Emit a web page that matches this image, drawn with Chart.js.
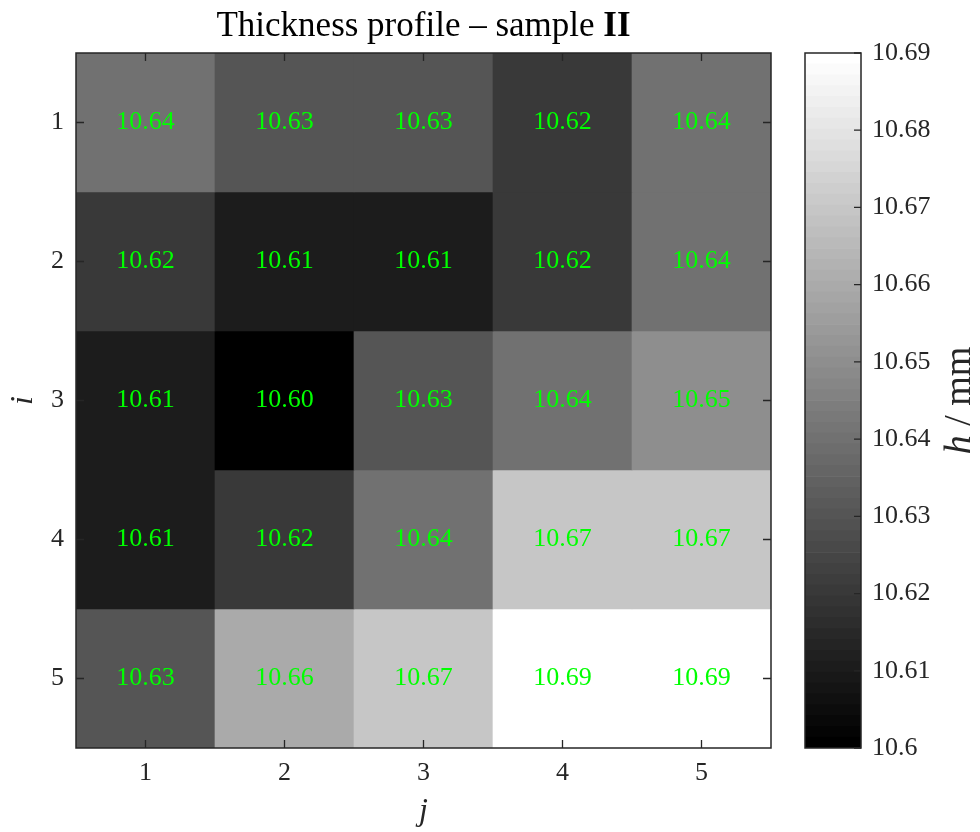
<!DOCTYPE html>
<html>
<head>
<meta charset="utf-8">
<title>Thickness profile – sample II</title>
<script src="https://cdn.jsdelivr.net/npm/chart.js@4.4.1/dist/chart.umd.min.js"></script>
<style>
  html, body { margin: 0; padding: 0; background: #ffffff; }
  #wrap { position: relative; width: 980px; height: 832px; }
  #heat { position: absolute; left: 0; top: 0; }
  #bar  { position: absolute; left: 780px; top: 0; }
</style>
</head>
<body>
<div id="wrap">
  <canvas id="heat" width="980" height="832"></canvas>
  <canvas id="bar" width="200" height="832"></canvas>
</div>
<script>
// Measured thickness h (mm), rows i = 1..5, columns j = 1..5
const columnLabels = ['1', '2', '3', '4', '5'];
const rowLabels = [1, 2, 3, 4, 5];
const rowI1 = [10.64, 10.63, 10.63, 10.62, 10.64];
const rowI2 = [10.62, 10.61, 10.61, 10.62, 10.64];
const rowI3 = [10.61, 10.60, 10.63, 10.64, 10.65];
const rowI4 = [10.61, 10.62, 10.64, 10.67, 10.67];
const rowI5 = [10.63, 10.66, 10.67, 10.69, 10.69];
const thickness = [rowI1, rowI2, rowI3, rowI4, rowI5];

// Colour scale
const colorLimits = [10.6, 10.69];
const colorbarTicks = [10.6, 10.61, 10.62, 10.63, 10.64, 10.65, 10.66, 10.67, 10.68, 10.69];
const levelCount = 64; // gray colormap with 64 entries

const SERIF = '"Liberation Serif", "DejaVu Serif", serif';
const AXIS_COLOR = '#262626';
const LABEL_COLOR = '#00ff00';

function levelIndex(v) {
  const t = (v - colorLimits[0]) / (colorLimits[1] - colorLimits[0]);
  return Math.min(levelCount - 1, Math.max(0, Math.floor(t * levelCount)));
}
function grayLevel(idx) {
  const g = Math.round(idx / (levelCount - 1) * 255);
  return 'rgb(' + g + ',' + g + ',' + g + ')';
}
function grayFor(v) { return grayLevel(levelIndex(v)); }

// Cell values, frame, inward ticks and text for the map
const heatDecor = {
  id: 'heatDecor',
  afterDatasetsDraw(chart) {
    const ctx = chart.ctx;
    const xs = chart.scales.x, ys = chart.scales.y;
    const a = chart.chartArea;
    ctx.save();
    // values inside the cells
    ctx.font = '26px ' + SERIF;
    ctx.fillStyle = LABEL_COLOR;
    ctx.textAlign = 'center';
    ctx.textBaseline = 'middle';
    thickness.forEach((row, r) => {
      row.forEach((v, c) => {
        ctx.fillText(v.toFixed(2), xs.getPixelForValue(c), ys.getPixelForValue(rowLabels[r]));
      });
    });
    // frame
    ctx.strokeStyle = AXIS_COLOR;
    ctx.lineWidth = 1.5;
    ctx.strokeRect(a.left, a.top, a.right - a.left, a.bottom - a.top);
    // inward tick marks on all four sides
    const tl = 8;
    ctx.lineWidth = 1.3;
    ctx.beginPath();
    xs.ticks.forEach((t, k) => {
      const px = xs.getPixelForTick(k);
      ctx.moveTo(px, a.bottom); ctx.lineTo(px, a.bottom - tl);
      ctx.moveTo(px, a.top); ctx.lineTo(px, a.top + tl);
    });
    ys.ticks.forEach((t) => {
      const py = ys.getPixelForValue(t.value);
      ctx.moveTo(a.left, py); ctx.lineTo(a.left + tl, py);
      ctx.moveTo(a.right, py); ctx.lineTo(a.right - tl, py);
    });
    ctx.stroke();
    ctx.restore();
  },
  afterDraw(chart) {
    const ctx = chart.ctx;
    const a = chart.chartArea;
    const cx = (a.left + a.right) / 2;
    const cy = (a.top + a.bottom) / 2;
    ctx.save();
    // title with bold sample number
    const part1 = 'Thickness profile \u2013 sample ';
    const part2 = 'II';
    const f1 = '35px ' + SERIF, f2 = 'bold 35px ' + SERIF;
    ctx.font = f1; const w1 = ctx.measureText(part1).width;
    ctx.font = f2; const w2 = ctx.measureText(part2).width;
    const x0 = cx - (w1 + w2) / 2;
    ctx.fillStyle = '#000000';
    ctx.textBaseline = 'alphabetic';
    ctx.textAlign = 'left';
    ctx.font = f1; ctx.fillText(part1, x0, 36);
    ctx.font = f2; ctx.fillText(part2, x0 + w1, 36);
    // axis labels
    ctx.fillStyle = AXIS_COLOR;
    ctx.font = 'italic 32px ' + SERIF;
    ctx.textAlign = 'center';
    ctx.fillText('j', cx, 820);
    ctx.translate(32, cy);
    ctx.rotate(-Math.PI / 2);
    ctx.fillText('i', 0, 0);
    ctx.restore();
  }
};

new Chart(document.getElementById('heat'), {
  type: 'bar',
  data: {
    labels: columnLabels,
    datasets: thickness.map((row, r) => ({
      label: 'i = ' + rowLabels[r],
      data: row.map(() => [rowLabels[r] - 0.5, rowLabels[r] + 0.5]),
      backgroundColor: row.map(grayFor),
      borderWidth: 0,
      grouped: false,
      barPercentage: 1,
      categoryPercentage: 1
    }))
  },
  options: {
    responsive: false,
    animation: false,
    devicePixelRatio: 1,
    layout: { padding: { top: 53, right: 209, left: 0, bottom: 0 } },
    plugins: { legend: { display: false }, tooltip: { enabled: false }, title: { display: false } },
    scales: {
      x: {
        type: 'category',
        offset: true,
        grid: { display: false, drawTicks: false },
        border: { display: false },
        ticks: { font: { family: SERIF, size: 26 }, color: AXIS_COLOR, padding: 10, maxRotation: 0 },
        afterFit(s) { s.height = 84; }
      },
      y: {
        type: 'linear',
        reverse: true,
        min: 0.5,
        max: 5.5,
        grid: { display: false, drawTicks: false },
        border: { display: false },
        ticks: { font: { family: SERIF, size: 26 }, color: AXIS_COLOR, padding: 12 },
        afterBuildTicks(s) { s.ticks = rowLabels.map(v => ({ value: v })); },
        afterFit(s) { s.width = 76; }
      }
    }
  },
  plugins: [heatDecor]
});

// Colour bar
const bandStep = (colorLimits[1] - colorLimits[0]) / levelCount;
const bands = Array.from({ length: levelCount }, (_, k) => k);

const barDecor = {
  id: 'barDecor',
  afterDatasetsDraw(chart) {
    const ctx = chart.ctx;
    const a = chart.chartArea;
    const ys = chart.scales.y;
    ctx.save();
    ctx.strokeStyle = AXIS_COLOR;
    ctx.lineWidth = 1.5;
    ctx.strokeRect(a.left, a.top, a.right - a.left, a.bottom - a.top);
    ctx.lineWidth = 1.3;
    ctx.beginPath();
    ys.ticks.forEach((t) => {
      const py = ys.getPixelForValue(t.value);
      ctx.moveTo(a.right, py); ctx.lineTo(a.right - 7, py);
    });
    ctx.stroke();
    // colour bar label: italic h, upright unit
    const cy = (a.top + a.bottom) / 2;
    const fi = 'italic 38px ' + SERIF, fr = '38px ' + SERIF;
    const p1 = 'h', p2 = ' / mm';
    ctx.font = fi; const w1 = ctx.measureText(p1).width;
    ctx.font = fr; const w2 = ctx.measureText(p2).width;
    ctx.translate(190, cy);
    ctx.rotate(-Math.PI / 2);
    ctx.fillStyle = AXIS_COLOR;
    ctx.textBaseline = 'alphabetic';
    ctx.textAlign = 'left';
    const x0 = -(w1 + w2) / 2;
    ctx.font = fi; ctx.fillText(p1, x0, 0);
    ctx.font = fr; ctx.fillText(p2, x0 + w1, 0);
    ctx.restore();
  }
};

new Chart(document.getElementById('bar'), {
  type: 'bar',
  data: {
    labels: [''],
    datasets: bands.map(k => ({
      label: 'level ' + k,
      data: [[colorLimits[0] + k * bandStep, colorLimits[0] + (k + 1) * bandStep]],
      backgroundColor: grayLevel(k),
      borderWidth: 0,
      grouped: false,
      barPercentage: 1,
      categoryPercentage: 1
    }))
  },
  options: {
    responsive: false,
    animation: false,
    devicePixelRatio: 1,
    layout: { padding: { top: 53, right: 0, left: 25, bottom: 84 } },
    plugins: { legend: { display: false }, tooltip: { enabled: false } },
    scales: {
      x: { type: 'category', display: false, offset: true },
      y: {
        type: 'linear',
        position: 'right',
        min: colorLimits[0],
        max: colorLimits[1],
        grid: { display: false, drawTicks: false },
        border: { display: false },
        ticks: {
          font: { family: SERIF, size: 26 },
          color: AXIS_COLOR,
          padding: 11,
          callback: (v) => String(v)
        },
        afterBuildTicks(s) { s.ticks = colorbarTicks.map(v => ({ value: v })); },
        afterFit(s) { s.width = 119; }
      }
    }
  },
  plugins: [barDecor]
});
</script>
</body>
</html>
